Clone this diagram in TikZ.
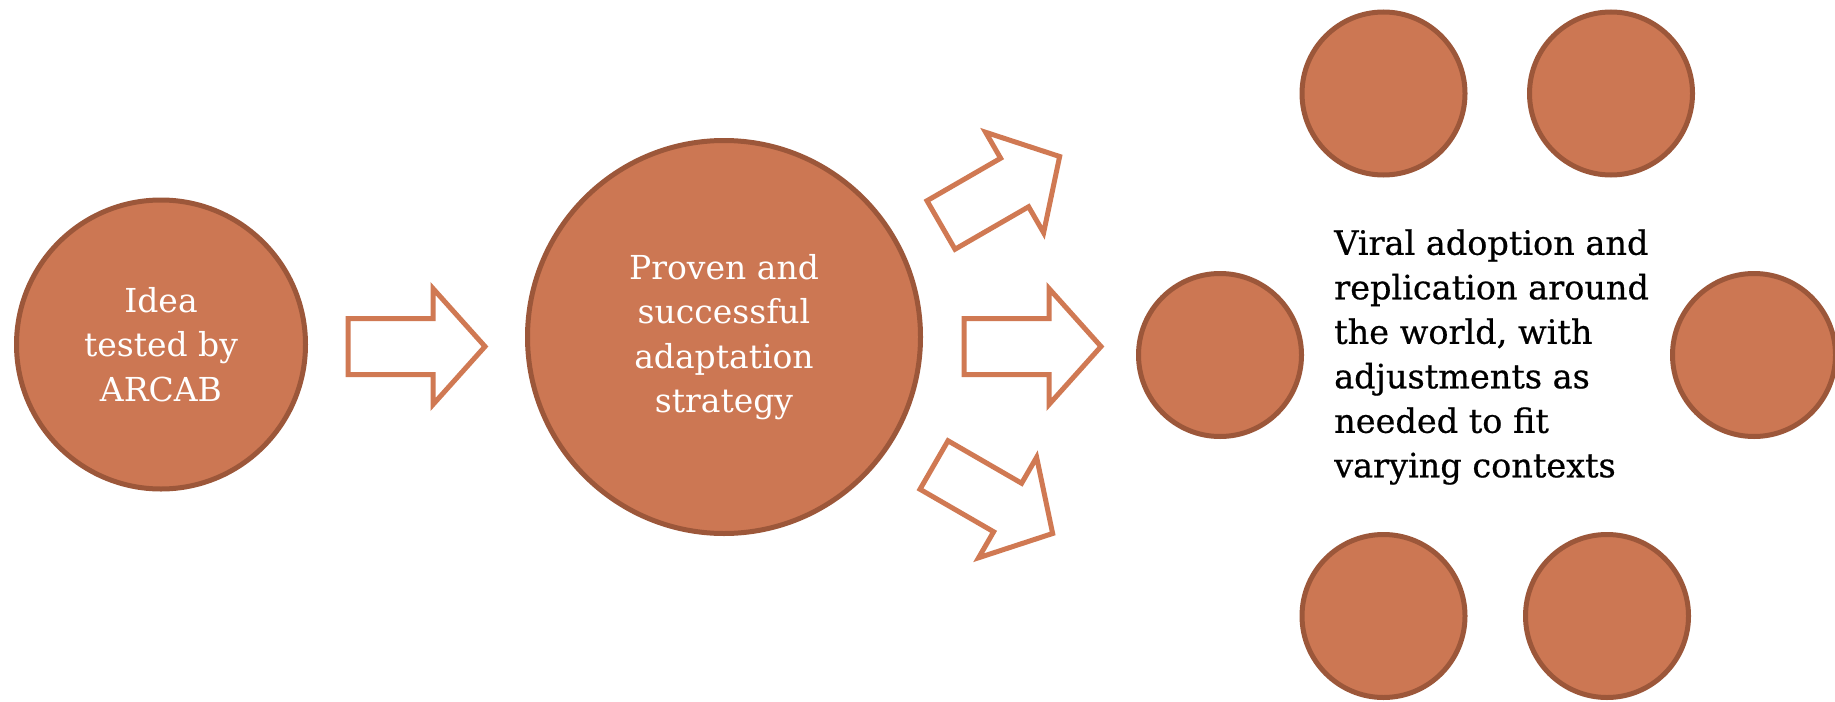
\documentclass[tikz,border=0pt]{standalone}
\usepackage{fontspec}
\setmainfont{DejaVu Serif}
\newfontface\heavyfont{DejaVu Serif}[FakeBold=0.6]
\definecolor{terra}{RGB}{204,119,83}
\definecolor{terraedge}{RGB}{156,87,58}
\definecolor{arrowedge}{RGB}{208,121,83}
\tikzset{
  ball/.style={circle, fill=terra, draw=terraedge, line width=5pt, inner sep=0pt, outer sep=0pt},
  balltext/.style={text=white, align=center, font=\fontsize{33}{44.5}\selectfont},
  arrowline/.style={draw=arrowedge, fill=white, line width=5pt, line join=miter},
  blockarrow/.pic={\path[arrowline] (0,-28) -- (85,-28) -- (85,-58) -- (137,0) -- (85,58) -- (85,28) -- (0,28) -- cycle;}
}
\begin{document}
\begin{tikzpicture}[x=1pt,y=-1pt]
\useasboundingbox (0,0) rectangle (1835,701);
% main nodes
\node[ball, minimum size=289pt, balltext] (idea) at (161,344.5) {Idea\\tested by\\ARCAB};
\node[ball, minimum size=393pt, balltext] (proven) at (724,337) {Proven and\\successful\\adaptation\\strategy};
% ring of small circles
\node[ball, minimum size=163pt] (c1) at (1220,355) {};
\node[ball, minimum size=163pt] (c2) at (1383.5,93.5) {};
\node[ball, minimum size=163pt] (c3) at (1611,93.5) {};
\node[ball, minimum size=163pt] (c4) at (1754,355) {};
\node[ball, minimum size=163pt] (c5) at (1383.5,616) {};
\node[ball, minimum size=163pt] (c6) at (1607,616) {};
\node[anchor=west, inner sep=0pt, align=left, font=\heavyfont\fontsize{33.5}{44.5}\selectfont] (viral) at (1334,357)
  {Viral adoption and\\replication around\\the world, with\\adjustments as\\needed to fit\\varying contexts};
% block arrows
\coordinate (a1) at (348,346.5);
\coordinate (a2) at (964,346.5);
\coordinate (a3) at (941,225);
\coordinate (a4) at (934,465);
\pic at (a1) {blockarrow};
\pic at (a2) {blockarrow};
\pic[rotate=30] at (a3) {blockarrow};
\pic[rotate=-30] at (a4) {blockarrow};
\end{tikzpicture}
\end{document}
